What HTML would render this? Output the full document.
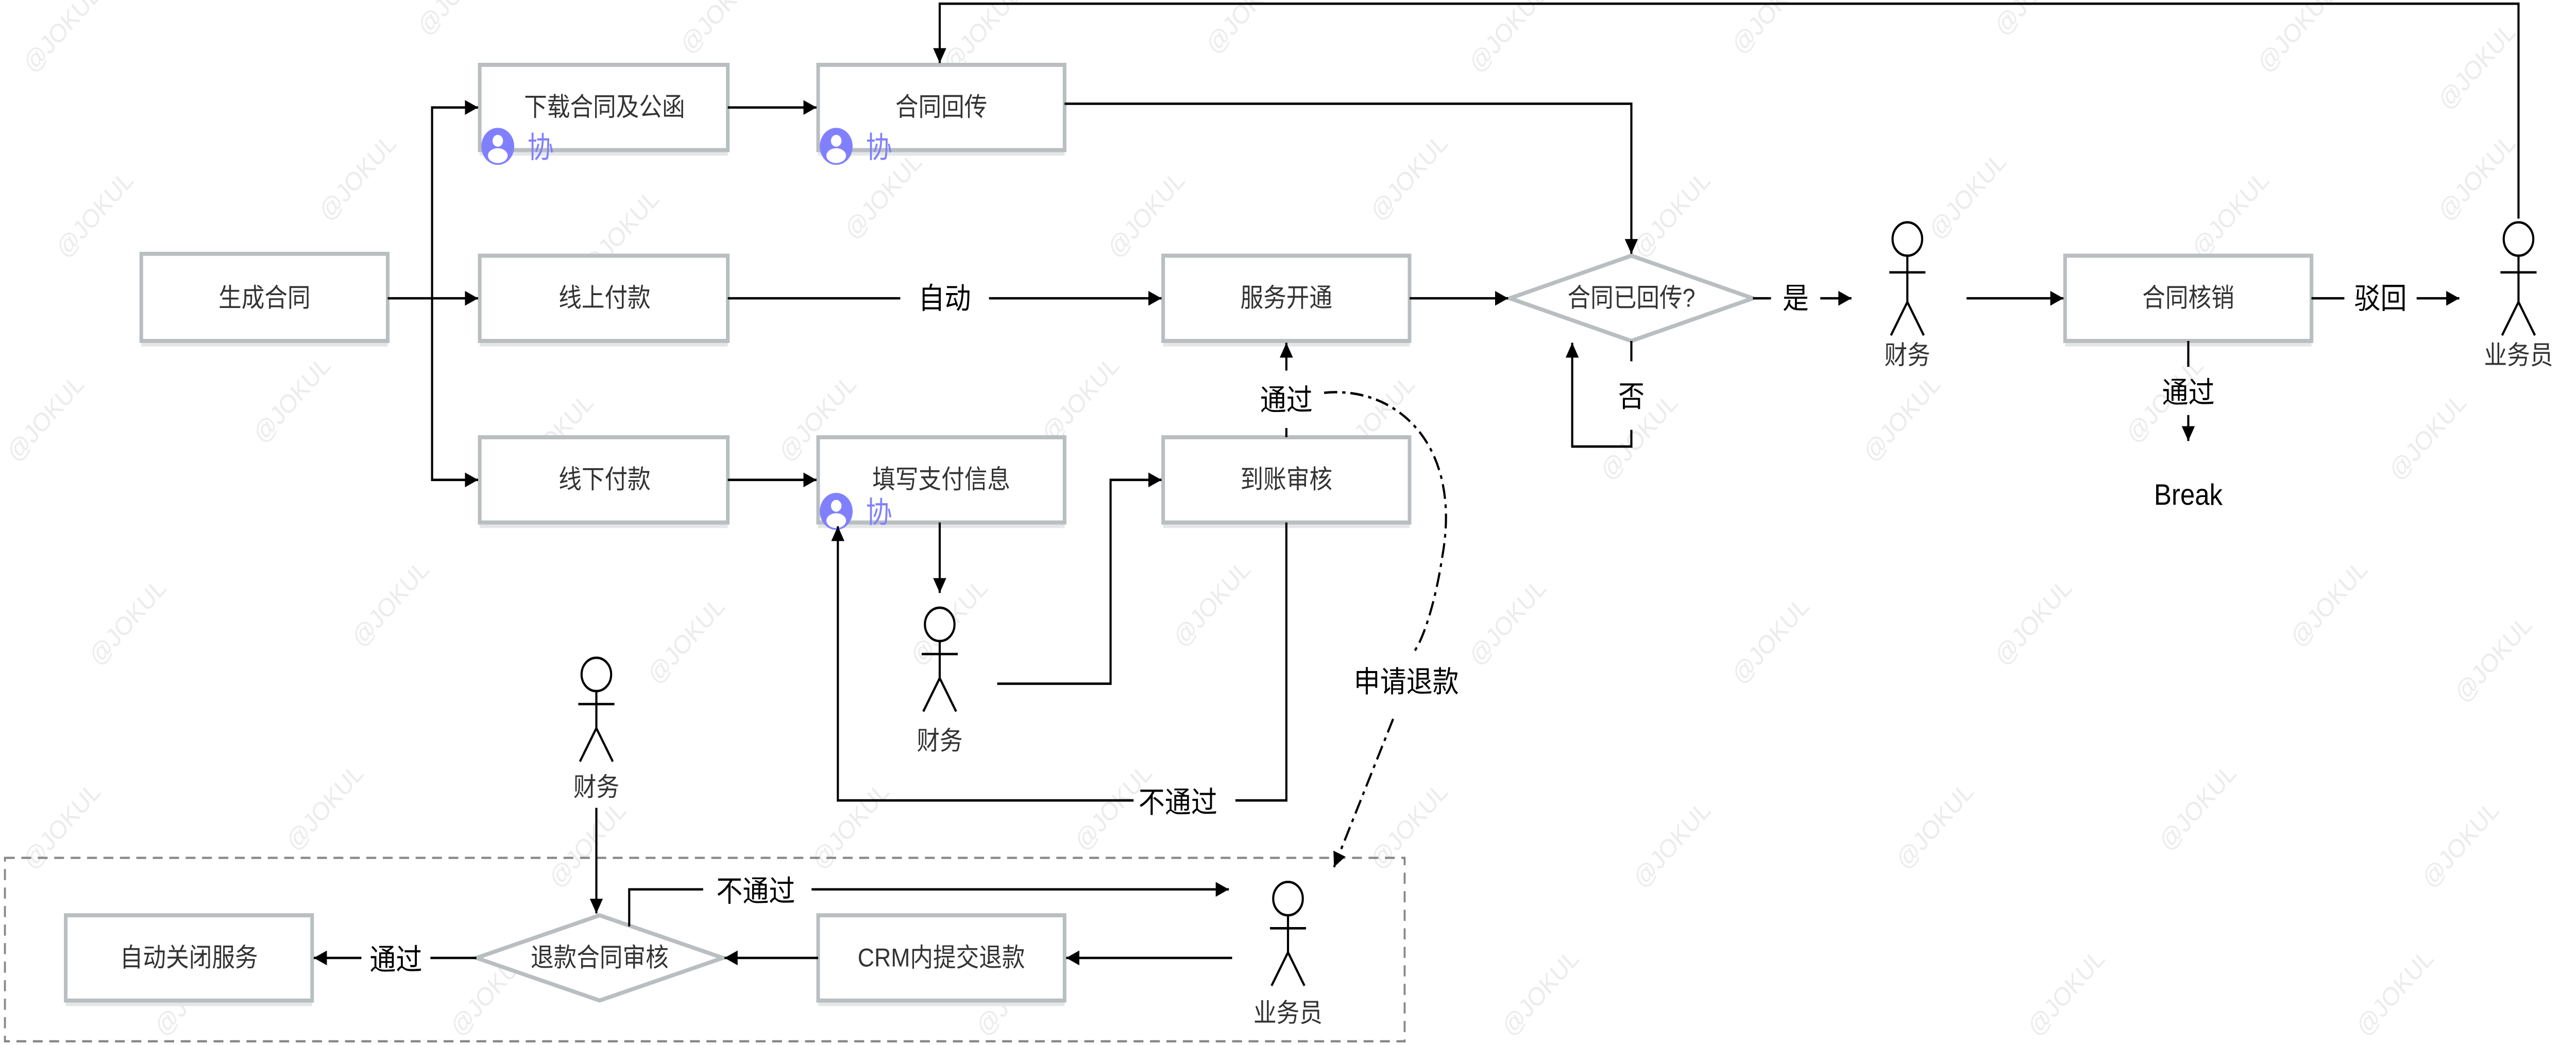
<!DOCTYPE html>
<html><head><meta charset="utf-8"><style>
html,body{margin:0;padding:0;background:#fff;overflow:hidden;width:100%;height:100%}
svg{display:block;width:100vw;height:100vh}
.box{fill:#fff;stroke:#b9bec0;stroke-width:2.2}
.sh{fill:#e4e6e7}
.bt{font-family:"Liberation Sans","Noto Sans CJK SC",sans-serif;font-size:14px;fill:#333;text-anchor:middle;dominant-baseline:central}
.lb{font-family:"Liberation Sans","Noto Sans CJK SC",sans-serif;font-size:16px;fill:#000;text-anchor:middle;dominant-baseline:central}
.ln{fill:none;stroke:#000;stroke-width:1.3}
.wm{font-family:"Liberation Sans",sans-serif;font-size:14px;fill:#ececec}
.act{fill:#fff;stroke:#000;stroke-width:1.3}
</style></head><body>
<svg viewBox="0 0 1568 564" preserveAspectRatio="none" xmlns="http://www.w3.org/2000/svg">
<defs>
<marker id="a" viewBox="0 0 10 10" refX="10" refY="5" markerWidth="8" markerHeight="8" markerUnits="userSpaceOnUse" orient="auto"><path d="M0,0L10,5L0,10z" fill="#000"/></marker>
<g id="w"><text class="wm" transform="rotate(-45)">@JOKUL</text></g>
</defs>
<g>
<use href="#w" x="20" y="40"/><use href="#w" x="260" y="20"/><use href="#w" x="420" y="30"/><use href="#w" x="580" y="40"/><use href="#w" x="740" y="30"/><use href="#w" x="900" y="40"/><use href="#w" x="1060" y="30"/><use href="#w" x="1220" y="20"/><use href="#w" x="1380" y="40"/><use href="#w" x="1490" y="60"/>
<use href="#w" x="40" y="140"/><use href="#w" x="200" y="120"/><use href="#w" x="360" y="150"/><use href="#w" x="520" y="130"/><use href="#w" x="680" y="140"/><use href="#w" x="840" y="120"/><use href="#w" x="1000" y="140"/><use href="#w" x="1180" y="130"/><use href="#w" x="1340" y="140"/><use href="#w" x="1490" y="120"/>
<use href="#w" x="10" y="250"/><use href="#w" x="160" y="240"/><use href="#w" x="320" y="260"/><use href="#w" x="480" y="250"/><use href="#w" x="640" y="240"/><use href="#w" x="820" y="250"/><use href="#w" x="980" y="260"/><use href="#w" x="1140" y="250"/><use href="#w" x="1300" y="240"/><use href="#w" x="1460" y="260"/>
<use href="#w" x="60" y="360"/><use href="#w" x="220" y="350"/><use href="#w" x="400" y="370"/><use href="#w" x="560" y="360"/><use href="#w" x="720" y="350"/><use href="#w" x="900" y="360"/><use href="#w" x="1060" y="370"/><use href="#w" x="1220" y="360"/><use href="#w" x="1400" y="350"/><use href="#w" x="1500" y="380"/>
<use href="#w" x="20" y="470"/><use href="#w" x="180" y="460"/><use href="#w" x="340" y="480"/><use href="#w" x="500" y="470"/><use href="#w" x="660" y="460"/><use href="#w" x="840" y="470"/><use href="#w" x="1000" y="480"/><use href="#w" x="1160" y="470"/><use href="#w" x="1320" y="460"/><use href="#w" x="1480" y="480"/>
<use href="#w" x="100" y="560"/><use href="#w" x="280" y="560"/><use href="#w" x="600" y="560"/><use href="#w" x="920" y="560"/><use href="#w" x="1240" y="560"/><use href="#w" x="1440" y="560"/>
</g>

<rect x="3" y="463" width="852" height="99" fill="none" stroke="#888" stroke-width="1.2" stroke-dasharray="6,4"/>

<g>
<rect class="sh" x="86" y="184" width="150" height="3"/><rect class="box" x="86" y="137" width="150" height="47"/><text class="bt" x="161" y="161">生成合同</text>
<rect class="sh" x="292" y="81" width="151" height="3"/><rect class="box" x="292" y="35" width="151" height="46"/><text class="bt" x="368" y="58">下载合同及公函</text>
<rect class="sh" x="498" y="81" width="150" height="3"/><rect class="box" x="498" y="35" width="150" height="46"/><text class="bt" x="573" y="58">合同回传</text>
<rect class="sh" x="292" y="184" width="151" height="3"/><rect class="box" x="292" y="138" width="151" height="46"/><text class="bt" x="368" y="161">线上付款</text>
<rect class="sh" x="708" y="184" width="150" height="3"/><rect class="box" x="708" y="138" width="150" height="46"/><text class="bt" x="783" y="161">服务开通</text>
<rect class="sh" x="292" y="282" width="151" height="3"/><rect class="box" x="292" y="236" width="151" height="46"/><text class="bt" x="368" y="259">线下付款</text>
<rect class="sh" x="498" y="282" width="150" height="3"/><rect class="box" x="498" y="236" width="150" height="46"/><text class="bt" x="573" y="259">填写支付信息</text>
<rect class="sh" x="708" y="282" width="150" height="3"/><rect class="box" x="708" y="236" width="150" height="46"/><text class="bt" x="783" y="259">到账审核</text>
<rect class="sh" x="1257" y="184" width="150" height="3"/><rect class="box" x="1257" y="138" width="150" height="46"/><text class="bt" x="1332" y="161">合同核销</text>
<rect class="sh" x="40" y="540" width="150" height="3"/><rect class="box" x="40" y="494" width="150" height="46"/><text class="bt" x="115" y="517">自动关闭服务</text>
<rect class="sh" x="498" y="540" width="150" height="3"/><rect class="box" x="498" y="494" width="150" height="46"/><text class="bt" x="573" y="517">CRM内提交退款</text>
<path class="box" d="M919,161L993,138L1067,161L993,184z"/><text class="bt" x="993" y="161">合同已回传?</text>
<path class="box" d="M290,517L365,494L440,517L365,540z"/><text class="bt" x="365" y="517">退款合同审核</text>
</g>

<g font-family="Liberation Sans,Noto Sans CJK SC,sans-serif" font-size="16" fill="#8080ff">
<g transform="translate(303,79)"><circle r="10" fill="#8080ff"/><circle cy="-3" r="3.2" fill="#fff"/><ellipse cy="5" rx="6" ry="4" fill="#fff"/></g><text x="321" y="85">协</text>
<g transform="translate(509,79)"><circle r="10" fill="#8080ff"/><circle cy="-3" r="3.2" fill="#fff"/><ellipse cy="5" rx="6" ry="4" fill="#fff"/></g><text x="527" y="85">协</text>
<g transform="translate(509,276)"><circle r="10" fill="#8080ff"/><circle cy="-3" r="3.2" fill="#fff"/><ellipse cy="5" rx="6" ry="4" fill="#fff"/></g><text x="527" y="282">协</text>
</g>

<g transform="translate(1161,120)"><circle class="act" cx="0" cy="9" r="9"/><path class="ln" d="M0,18V43M-11,27H11M0,43L-10,61M0,43L10,61"/></g>
<text class="bt" x="1161" y="192" fill="#000">财务</text>
<g transform="translate(1533,120)"><circle class="act" cx="0" cy="9" r="9"/><path class="ln" d="M0,18V43M-11,27H11M0,43L-10,61M0,43L10,61"/></g>
<text class="bt" x="1533" y="192">业务员</text>
<g transform="translate(572,328)"><circle class="act" cx="0" cy="9" r="9"/><path class="ln" d="M0,18V38M-11,25H11M0,38L-10,56M0,38L10,56"/></g>
<text class="bt" x="572" y="400">财务</text>
<g transform="translate(363,355)"><circle class="act" cx="0" cy="9" r="9"/><path class="ln" d="M0,18V38M-11,25H11M0,38L-10,56M0,38L10,56"/></g>
<text class="bt" x="363" y="425">财务</text>
<g transform="translate(784,476)"><circle class="act" cx="0" cy="9" r="9"/><path class="ln" d="M0,18V38M-11,25H11M0,38L-10,56M0,38L10,56"/></g>
<text class="bt" x="784" y="547">业务员</text>

<g>
<path class="ln" d="M236,161H263V58H291" marker-end="url(#a)"/>
<path class="ln" d="M263,161H291" marker-end="url(#a)"/>
<path class="ln" d="M263,161V259H291" marker-end="url(#a)"/>
<path class="ln" d="M443,58H497" marker-end="url(#a)"/>
<path class="ln" d="M648,56H993V137" marker-end="url(#a)"/>
<path class="ln" d="M443,161H548M602,161H707" marker-end="url(#a)"/>
<text class="lb" x="575" y="161">自动</text>
<path class="ln" d="M858,161H918" marker-end="url(#a)"/>
<path class="ln" d="M993,184V195M993,232V241H957V185" marker-end="url(#a)"/>
<text class="lb" x="993" y="214">否</text>
<path class="ln" d="M1067,161H1078M1108,161H1127" marker-end="url(#a)"/>
<text class="lb" x="1093" y="161">是</text>
<path class="ln" d="M1197,161H1256" marker-end="url(#a)"/>
<path class="ln" d="M1407,161H1427M1471,161H1497" marker-end="url(#a)"/>
<text class="lb" x="1449" y="161">驳回</text>
<path class="ln" d="M1533,118V2H572V34" marker-end="url(#a)"/>
<path class="ln" d="M1332,184V198"/>
<text class="lb" x="1332" y="212">通过</text>
<path class="ln" d="M1332,224V238" marker-end="url(#a)"/>
<text class="lb" x="1332" y="267">Break</text>
<path class="ln" d="M443,259H497" marker-end="url(#a)"/>
<path class="ln" d="M572,282V320" marker-end="url(#a)"/>
<path class="ln" d="M607,369H676V259H707" marker-end="url(#a)"/>
<path class="ln" d="M783,236V231"/>
<path class="ln" d="M783,200V185" marker-end="url(#a)"/>
<text class="lb" x="783" y="216">通过</text>
<path class="ln" d="M783,282V432H752M690,432H510V284" marker-end="url(#a)"/>
<text class="lb" x="717" y="433">不通过</text>
<path class="ln" d="M806,212C850,208 890,240 878,300C872,335 862,352 860,352" stroke-dasharray="8,3,2,3"/>
<path class="ln" d="M848,388L812,468" stroke-dasharray="8,3,2,3" marker-end="url(#a)"/>
<text class="lb" x="856" y="368">申请退款</text>
<path class="ln" d="M363,436V493" marker-end="url(#a)"/>
<path class="ln" d="M383,500V480H428M494,480H748" marker-end="url(#a)"/>
<text class="lb" x="460" y="481">不通过</text>
<path class="ln" d="M750,517H649" marker-end="url(#a)"/>
<path class="ln" d="M498,517H441" marker-end="url(#a)"/>
<path class="ln" d="M290,517H262M220,517H191" marker-end="url(#a)"/>
<text class="lb" x="241" y="518">通过</text>
</g>
</svg>
</body></html>
